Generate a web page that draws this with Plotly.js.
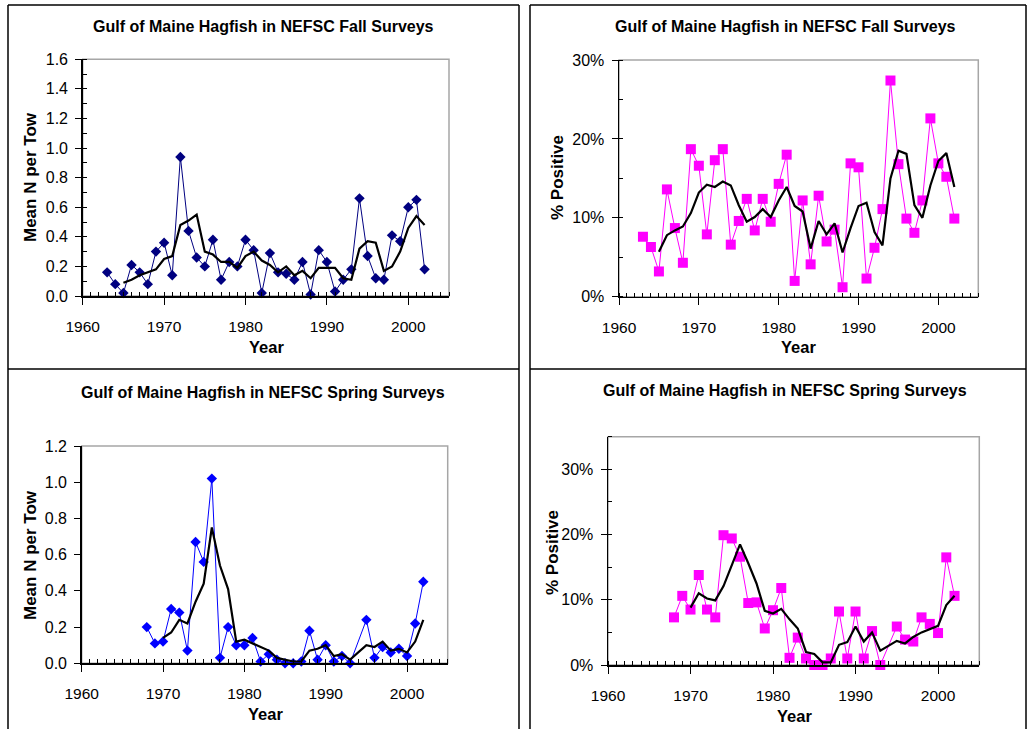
<!DOCTYPE html>
<html>
<head>
<meta charset="utf-8">
<script src="https://cdn.plot.ly/plotly-3.0.1.min.js"></script>
<style>html,body{margin:0;padding:0;background:#fff;}#chart{width:1031px;height:729px;}</style>
</head>
<body>
<div id="chart"></div>
<script>
// ---------- DATA ----------
const fallYears = [1963,1964,1965,1966,1967,1968,1969,1970,1971,1972,1973,1974,1975,1976,1977,1978,1979,1980,1981,1982,1983,1984,1985,1986,1987,1988,1989,1990,1991,1992,1993,1994,1995,1996,1997,1998,1999,2000,2001,2002];
const fallMeanN = [0.16,0.08,0.02,0.21,0.16,0.08,0.30,0.36,0.14,0.94,0.44,0.26,0.20,0.38,0.11,0.23,0.20,0.38,0.31,0.02,0.29,0.16,0.15,0.11,0.23,0.01,0.31,0.23,0.03,0.11,0.18,0.66,0.27,0.12,0.11,0.41,0.37,0.60,0.65,0.18];
const fallMeanNAvg = [null,null,0.09,0.11,0.14,0.16,0.18,0.25,0.27,0.48,0.51,0.55,0.30,0.28,0.23,0.23,0.19,0.27,0.30,0.24,0.21,0.16,0.20,0.14,0.17,0.12,0.19,0.19,0.19,0.12,0.11,0.32,0.37,0.36,0.17,0.20,0.30,0.46,0.54,0.48];
const fallPctPos = [7.6,6.3,3.2,13.6,8.7,4.3,18.7,16.6,7.9,17.3,18.7,6.6,9.6,12.4,8.4,12.4,9.5,14.3,18.0,2.0,12.2,4.1,12.8,7.0,8.5,1.2,16.9,16.4,2.3,6.2,11.1,27.4,16.8,9.9,8.1,12.2,22.6,16.9,15.2,9.9];
const fallPctPosAvg = [null,null,5.7,7.8,8.4,8.9,10.6,13.2,14.2,13.9,14.6,14.1,11.6,9.5,10.1,11.1,10.1,12.2,13.9,11.5,10.8,6.1,9.6,7.9,9.3,5.6,8.7,11.5,11.9,8.2,6.5,15.0,18.5,18.1,11.6,10.0,14.1,17.2,18.2,13.9];

const springYears = [1968,1969,1970,1971,1972,1973,1974,1975,1976,1977,1978,1979,1980,1981,1982,1983,1984,1985,1986,1987,1988,1989,1990,1991,1992,1993,1994,1995,1996,1997,1998,1999,2000,2001,2002];
const springMeanN = [0.20,0.11,0.12,0.30,0.28,0.07,0.67,0.56,1.02,0.03,0.20,0.10,0.10,0.14,0.01,0.05,0.02,0.00,0.00,0.01,0.18,0.02,0.10,0.01,0.04,0.00,null,0.24,0.03,0.09,0.06,0.08,0.04,0.22,0.45];
const springMeanNAvg = [null,null,0.14,0.17,0.24,0.22,0.34,0.44,0.75,0.54,0.41,0.12,0.13,0.11,0.09,0.07,0.03,0.02,0.01,0.01,0.07,0.08,0.10,0.04,0.05,0.02,null,0.10,0.09,0.12,0.07,0.08,0.06,0.12,0.24];
const springPctPos = [7.3,10.6,8.5,13.8,8.5,7.3,19.9,19.4,16.6,9.5,9.6,5.6,8.4,11.8,1.1,4.2,1.0,0.0,0.0,1.0,8.2,1.0,8.2,1.0,5.2,0.0,null,5.9,3.9,3.6,7.3,6.3,4.9,16.5,10.6];
const springPctPosAvg = [null,null,8.8,11.0,10.2,9.9,12.1,15.3,18.5,15.6,12.5,8.3,7.9,8.6,7.0,5.6,2.0,1.7,0.4,0.4,3.1,3.5,5.9,3.6,5.0,2.2,null,3.7,3.3,4.3,5.0,5.5,6.0,9.2,10.6];

const titleFall = "Gulf of Maine Hagfish in NEFSC Fall Surveys";
const titleSpring = "Gulf of Maine Hagfish in NEFSC Spring Surveys";
const yTitleMean = "Mean N per Tow";
const yTitlePct = "% Positive";
const xTitle = "Year";

// ---------- LAYOUT HELPERS ----------
const W = 1031, H = 729;
const px = x => x / W;
const py = y => 1 - y / H;
const FONT = "Liberation Sans, Arial, sans-serif";

const panels = [
  {k:'', box:[82.7,59.3,449,296], yr:[0,1.6], dt:0.2, fmt:'.1f', suf:'', minor:0.1,
   x:fallYears, y:fallMeanN, avg:fallMeanNAvg, color:'#000080', sym:'diamond', ms:8,
   title:titleFall, tpos:[263,27], ytitle:yTitleMean, ytpos:[30,177], xtpos:[266,347]},
  {k:'2', box:[619,60,978.3,296.7], yr:[0,30], dt:10, fmt:'', suf:'%', minor:5,
   x:fallYears, y:fallPctPos, avg:fallPctPosAvg, color:'#FF00FF', sym:'square', ms:10,
   title:titleFall, tpos:[785,27], ytitle:yTitlePct, ytpos:[558,178], xtpos:[798,347]},
  {k:'3', box:[81.7,446,447.7,663.3], yr:[0,1.2], dt:0.2, fmt:'.1f', suf:'', minor:null,
   x:springYears, y:springMeanN, avg:springMeanNAvg, color:'#0000FF', sym:'diamond', ms:8,
   title:titleSpring, tpos:[263,392], ytitle:yTitleMean, ytpos:[30,555], xtpos:[265,714]},
  {k:'4', box:[608,436.7,979.3,665], yr:[0,35], dt:10, fmt:'', suf:'%', minor:5,
   x:springYears, y:springPctPos, avg:springPctPosAvg, color:'#FF00FF', sym:'square', ms:10,
   title:titleSpring, tpos:[785,390], ytitle:yTitlePct, ytpos:[552,553], xtpos:[794,716]}
];

const data = [];
const layout = {
  width: W, height: H,
  margin: {l:0, r:0, t:0, b:0},
  paper_bgcolor: '#fff', plot_bgcolor: '#fff',
  showlegend: false,
  font: {family: FONT, size: 16, color: '#000'},
  annotations: [], shapes: []
};

panels.forEach(p => {
  const xa = 'x' + p.k, ya = 'y' + p.k;
  const [x0, y0, x1, y1] = p.box;
  data.push({
    x: p.x, y: p.y, xaxis: xa, yaxis: ya, type: 'scatter', mode: 'lines+markers',
    connectgaps: true, cliponaxis: false,
    line: {color: p.color, width: 1},
    marker: {symbol: p.sym, size: p.ms, color: p.color, line: {width: 0}},
    hoverinfo: 'x+y'
  });
  data.push({
    x: p.x, y: p.avg, xaxis: xa, yaxis: ya, type: 'scatter', mode: 'lines',
    connectgaps: true, cliponaxis: false,
    line: {color: '#000', width: 2.2},
    hoverinfo: 'x+y'
  });
  const axX = {
    domain: [px(x0), px(x1)], anchor: ya, range: [1960, 2005],
    tick0: 1960, dtick: 10, ticks: 'outside', ticklen: 7, tickwidth: 1, tickcolor: '#000',
    minor: {dtick: 1, tick0: 1960, ticks: 'inside', ticklen: 4, tickcolor: '#000', tickwidth: 1, showgrid: false},
    showline: true, linecolor: '#000', linewidth: 1.5, showgrid: false, zeroline: false,
    ticklabelstandoff: 9, tickfont: {family: FONT, size: 15.5, color: '#000'}, fixedrange: true
  };
  const axY = {
    domain: [py(y1), py(y0)], anchor: xa, range: p.yr,
    tick0: 0, dtick: p.dt, tickformat: p.fmt, ticksuffix: p.suf,
    ticks: 'outside', ticklen: 6, tickwidth: 1, tickcolor: '#000',
    showline: true, linecolor: '#000', linewidth: 1.5, showgrid: false, zeroline: false,
    ticklabelstandoff: 4, tickfont: {family: FONT, size: 16, color: '#000'}, fixedrange: true
  };
  if (p.minor) axY.minor = {dtick: p.minor, tick0: 0, ticks: 'inside', ticklen: 4, tickcolor: '#000', tickwidth: 1, showgrid: false};
  layout['xaxis' + p.k] = axX;
  layout['yaxis' + p.k] = axY;
  // gray plot-area border (top & right)
  layout.shapes.push({type:'rect', xref:'paper', yref:'paper', x0:px(x0), x1:px(x1), y0:py(y1), y1:py(y0),
    line:{color:'#a6a6a6', width:1.5}, layer:'below'});
  layout.annotations.push({text: '<b>' + p.title + '</b>', xref:'paper', yref:'paper',
    x: px(p.tpos[0]), y: py(p.tpos[1]), xanchor:'center', yanchor:'middle', showarrow:false,
    font:{family:FONT, size:16, color:'#000'}});
  layout.annotations.push({text: '<b>' + p.ytitle + '</b>', xref:'paper', yref:'paper',
    x: px(p.ytpos[0]), y: py(p.ytpos[1]), xanchor:'center', yanchor:'middle', showarrow:false, textangle:-90,
    font:{family:FONT, size:17, color:'#000'}});
  layout.annotations.push({text: '<b>' + xTitle + '</b>', xref:'paper', yref:'paper',
    x: px(p.xtpos[0]), y: py(p.xtpos[1]), xanchor:'center', yanchor:'middle', showarrow:false,
    font:{family:FONT, size:16.5, color:'#000'}});
});

// panel frames
const frameLines = [
  [8,5,519,5],[530,5,1026,5],
  [8,369,519,369],[530,369,1026,369],
  [8,5,8,729],[519,5,519,729],[530,5,530,729],[1026,5,1026,729]
];
frameLines.forEach(f => layout.shapes.push({type:'line', xref:'paper', yref:'paper',
  x0:px(f[0]), y0:py(f[1]), x1:px(f[2]), y1:py(f[3]), line:{color:'#000', width:1.5}, layer:'above'}));

Plotly.newPlot('chart', data, layout, {displayModeBar:false, staticPlot:true});
</script>
</body>
</html>
